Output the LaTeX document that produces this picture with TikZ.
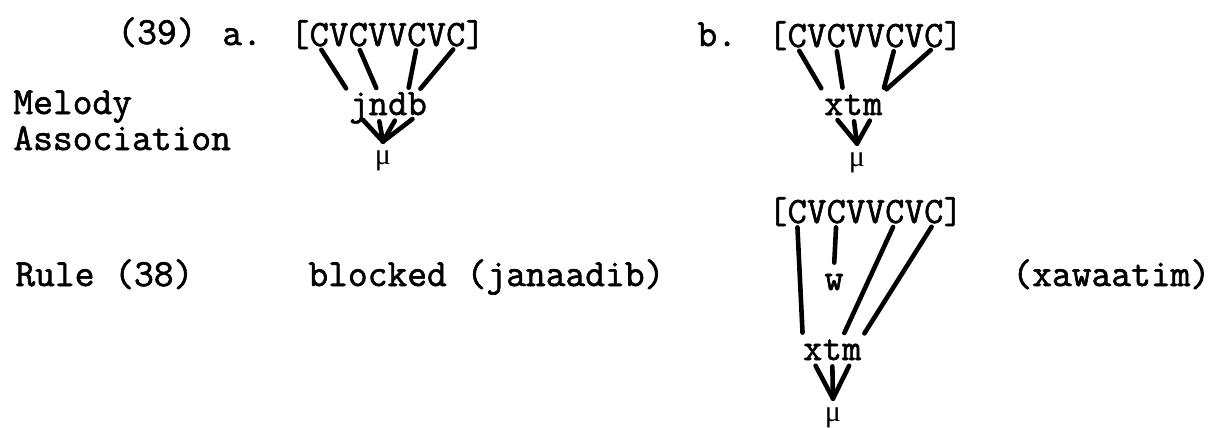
\documentclass[tikz,border=0pt]{standalone}
\usepackage{fontspec}
\usepackage{tikz}
\newfontfamily\tw[FakeBold=1.6]{Latin Modern Mono}
\newfontfamily\gk{Liberation Serif}
\tikzset{
    lbl/.style={font=\tw\fontsize{19.2pt}{20pt}\selectfont, anchor=base west, inner sep=0pt},
    seg/.style={font=\tw\fontsize{18.6pt}{20pt}\selectfont, anchor=base, inner sep=0pt, text height=11pt, text depth=0pt},
    musym/.style={font=\gk\fontsize{15pt}{16pt}\selectfont, anchor=base, inner sep=0pt, text height=11pt, text depth=0pt},
    assoc/.style={line width=2.3pt, line cap=round, shorten <=2pt, shorten >=2.5pt},
    tomu/.style={assoc, shorten <=3pt, shorten >=0pt}
}

\begin{document}
\begin{tikzpicture}[x=0.5pt, y=-0.5pt]
    \useasboundingbox (0,0) rectangle (1216,428);

    % Labels on the left
    \node[lbl] (num) at (117,44) {(39)};
    \node[lbl] (mela) at (13,114) {Melody};
    \node[lbl] (melb) at (13,150) {Association};
    \node[lbl] (rule) at (15,286) {Rule (38)};

    % (a) jndb
    \node[lbl] (tagA) at (222,45) {a.};
    \foreach \s [count=\i] in {{[},C,V,C,V,V,C,V,C,{]}}
        \node[seg] (a\i) at ({290+19.5*(\i-0.5)},46) {\s};
    \foreach \s [count=\i] in {j,n,d,b}
        \node[seg] (am\i) at ({349+19.5*(\i-0.5)},115) {\s};
    \node[musym] (amu) at (383,164) {μ};
    \draw[assoc] (a2.south) -- (am1.north west);
    \draw[assoc] (a4.south) -- (am2.north);
    \draw[assoc] (a7.south) -- (am3.north east);
    \draw[assoc] (a9.south) -- (am4.north);
    \foreach \i in {1,...,4}
        \draw[tomu] (am\i.south) -- (amu.north);
    \node[lbl] (blocked) at (308,286) {blocked (janaadib)};

    % (b) xtm
    \node[lbl] (tagB) at (697,46) {b.};
    \foreach \s [count=\i] in {{[},C,V,C,V,V,C,V,C,{]}}
        \node[seg] (b\i) at ({768+19.5*(\i-0.5)},47) {\s};
    \foreach \s [count=\i] in {x,t,m}
        \node[seg] (bm\i) at ({824+19.5*(\i-0.5)},115) {\s};
    \node[musym] (bmu) at (857,166) {μ};
    \draw[assoc] (b2.south) -- (bm1.north west);
    \draw[assoc] (b4.south) -- (bm2.north west);
    \draw[assoc] (b7.south) -- (bm3.north east);
    \draw[assoc] (b9.south) -- (bm3.north east);
    \foreach \i in {1,...,3}
        \draw[tomu] (bm\i.south) -- (bmu.north);

    % after rule (38)
    \foreach \s [count=\i] in {{[},C,V,C,V,V,C,V,C,{]}}
        \node[seg] (c\i) at ({768+19.5*(\i-0.5)},223) {\s};
    \node[seg] (w) at (834,290) {w};
    \foreach \s [count=\i] in {x,t,m}
        \node[seg] (cm\i) at ({803+19.5*(\i-0.5)},360) {\s};
    \node[musym] (cmu) at (833,421) {μ};
    \draw[assoc] (c2.south) -- (cm1.north west);
    \draw[assoc] (c4.south) -- (w.north);
    \draw[assoc] (c7.south) -- (cm2.north east);
    \draw[assoc] (c9.south) -- (cm3.north east);
    \foreach \i in {1,...,3}
        \draw[tomu] (cm\i.south) -- (cmu.north);
    \node[lbl] (xaw) at (1012,286) {(xawaatim)};
\end{tikzpicture}
\end{document}
